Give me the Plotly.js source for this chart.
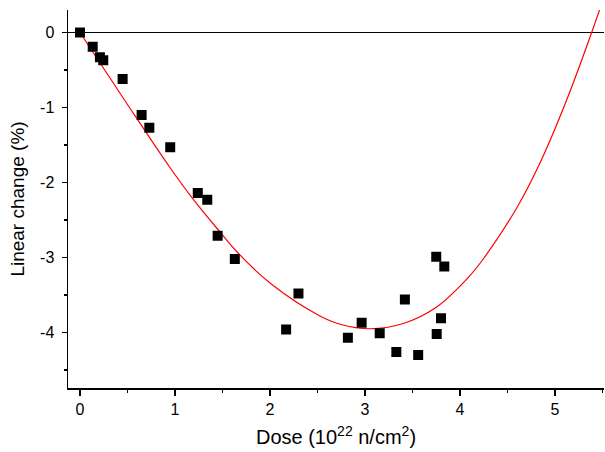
<!DOCTYPE html>
<html>
<head>
<meta charset="utf-8">
<script src="https://cdn.plot.ly/plotly-3.0.1.min.js"></script>
<style>html,body{margin:0;padding:0;background:#fff;}#chart{width:605px;height:452px;}</style>
</head>
<body>
<div id="chart"></div>
<script>
// Measured data points
const doseData = [0, 0.134, 0.21, 0.245, 0.449, 0.649, 0.73, 0.95, 1.24, 1.34, 1.449, 1.63, 2.17, 2.30, 2.82, 2.965, 3.155, 3.33, 3.42, 3.56, 3.75, 3.835, 3.80, 3.755];
const changeData = [0, -0.19, -0.33, -0.37, -0.62, -1.10, -1.27, -1.53, -2.14, -2.23, -2.71, -3.02, -3.96, -3.48, -4.07, -3.87, -4.01, -4.26, -3.56, -4.30, -2.99, -3.12, -3.81, -4.02];

// Fit curve
const fitDose = [0, 0.5, 0.947, 1.193, 1.474, 1.649, 2.0, 2.526, 2.737, 3.053, 3.403, 3.755, 4.07, 4.245, 4.597, 4.842, 5.123, 5.386, 5.474];
const fitChange = [0, -0.96, -1.80, -2.226, -2.66, -2.92, -3.34, -3.78, -3.89, -3.95, -3.88, -3.66, -3.29, -3.02, -2.34, -1.74, -0.90, 0, 0.32];

const xTickVals = [0, 1, 2, 3, 4, 5];
const xTickText = ["0", "1", "2", "3", "4", "5"];
const yTickVals = [0, -1, -2, -3, -4];
const yTickText = ["0", "-1", "-2", "-3", "-4"];

const font = "Liberation Sans, Arial, sans-serif";

const traces = [
  {
    x: fitDose, y: fitChange, type: "scatter", mode: "lines",
    line: {color: "#ff0000", width: 1.2, shape: "spline", smoothing: 1},
    hoverinfo: "skip"
  },
  {
    x: doseData, y: changeData, type: "scatter", mode: "markers",
    marker: {symbol: "square", size: 10, color: "#000000"}
  }
];

const layout = {
  width: 605, height: 452,
  margin: {l: 68, r: 1, t: 10, b: 64},
  paper_bgcolor: "#fff", plot_bgcolor: "#fff",
  showlegend: false,
  font: {family: font, color: "#000"},
  xaxis: {
    range: [-0.126, 5.516],
    showgrid: false, zeroline: false,
    showline: true, linecolor: "#000", linewidth: 1.5,
    ticks: "outside", ticklen: 6, tickwidth: 1.5, tickcolor: "#000",
    tickvals: xTickVals, ticktext: xTickText,
    tickfont: {family: font, size: 16, color: "#000"},
    minor: {ticks: "outside", ticklen: 3, tickwidth: 1.5, tickcolor: "#000", dtick: 0.5, tick0: 0},
    title: {text: "Dose (10<sup>22</sup> n/cm<sup>2</sup>)", font: {family: font, size: 20, color: "#000"}, standoff: 13}
  },
  yaxis: {
    range: [-4.74, 0.30],
    showgrid: false, zeroline: true, zerolinecolor: "#000", zerolinewidth: 1.5,
    showline: true, linecolor: "#000", linewidth: 1.5,
    ticks: "outside", ticklen: 5, tickwidth: 1.5, tickcolor: "#000",
    tickvals: yTickVals, ticktext: yTickText,
    ticklabelstandoff: 4,
    tickfont: {family: font, size: 16, color: "#000"},
    minor: {ticks: "outside", ticklen: 3, tickwidth: 1.5, tickcolor: "#000", dtick: 0.5, tick0: 0},
    title: {text: "Linear change (%)", font: {family: font, size: 19, color: "#000"}, standoff: 10}
  }
};

Plotly.newPlot("chart", traces, layout, {displayModeBar: false, staticPlot: true});
</script>
</body>
</html>
